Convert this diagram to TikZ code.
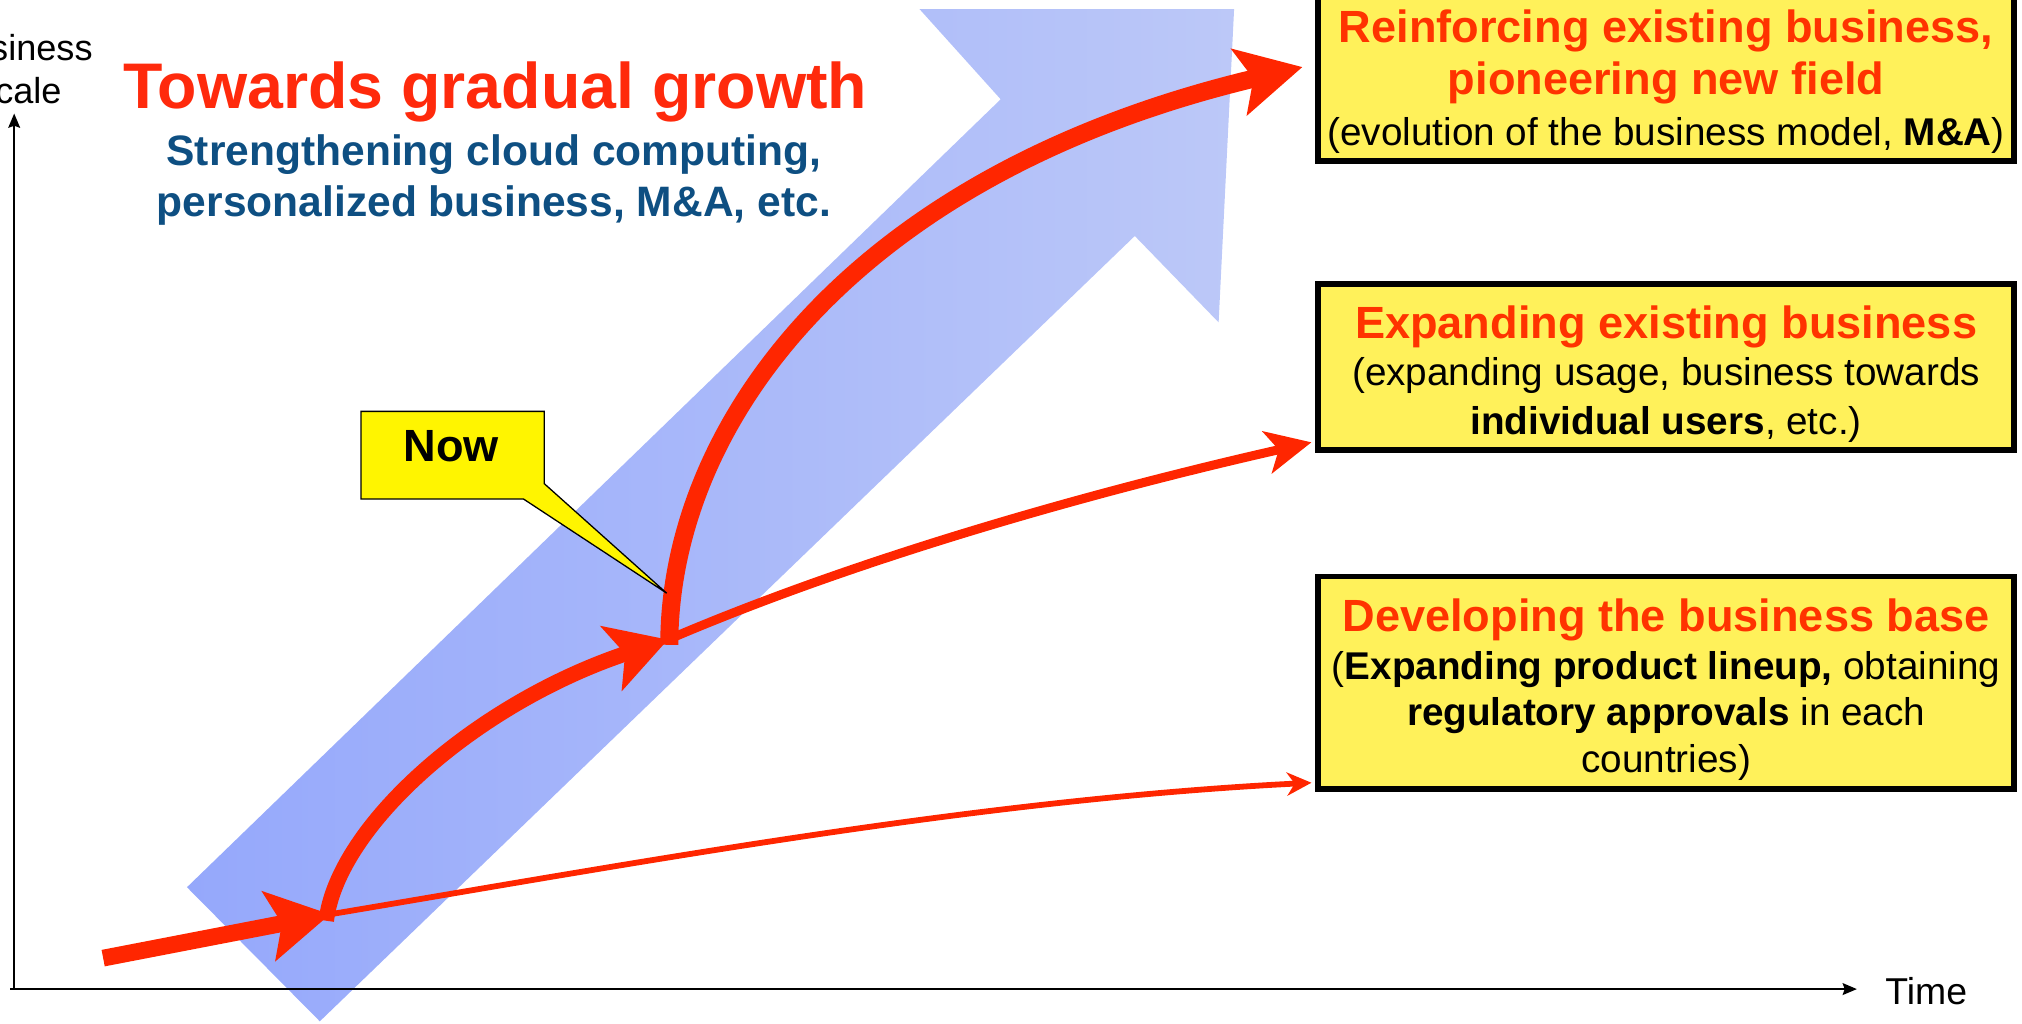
\documentclass[tikz,border=0pt]{standalone}
\usepackage{fontspec}
\setmainfont{Liberation Sans}
\usetikzlibrary{arrows.meta}
\definecolor{arrred}{HTML}{FF2600}
\definecolor{titlered}{HTML}{FF2A0C}
\definecolor{headred}{HTML}{FF3300}
\definecolor{subblue}{HTML}{0E4F82}
\definecolor{boxyellow}{HTML}{FFF15A}
\definecolor{nowyellow}{HTML}{FFF500}
\definecolor{blueA}{HTML}{95A8FB}
\definecolor{blueB}{HTML}{BCC8F8}
\begin{document}
\begin{tikzpicture}[x=1pt,y=-1pt,
  lbl/.style={inner sep=0pt, outer sep=0pt},
  headtxt/.style={lbl, anchor=base, text=headred, font=\fontsize{35}{42}\selectfont\bfseries},
  bodytxt/.style={lbl, anchor=base, text=black, font=\fontsize{30}{37}\selectfont},
  subtxt/.style={lbl, anchor=base, text=subblue, font=\fontsize{33}{40}\selectfont\bfseries},
  infobox/.style={draw=black, line width=4.5pt, fill=boxyellow, minimum width=540pt, inner sep=0pt, outer sep=0pt},
  axisline/.style={draw=black, line width=2pt, -{Stealth[length=11pt,width=9pt,inset=1.5pt]}},
  bigarrow/.style={draw=arrred, line width=12pt, -{Stealth[length=50pt,width=52pt,inset=11pt]}},
  thinarrow/.style={draw=arrred, line width=4.5pt, -{Stealth[length=19pt,width=18pt,inset=6pt]}},
  midarrow/.style={draw=arrred, line width=7pt, -{Stealth[length=35pt,width=33pt,inset=9pt]}},
]
\useasboundingbox (0,0) rectangle (1568,794);

% big blue arrow
\shade[left color=blueA, right color=blueB] (713,7) -- (957,7) -- (945,250) -- (880,183) -- (248,792) -- (145,688) -- (776,77) -- cycle;

% axes
\coordinate (origin) at (11,767);
\coordinate (ytip) at (11,88);
\coordinate (xstart) at (8,767);
\coordinate (xtip) at (1440,767);
\draw[axisline] (origin) -- (ytip);
\draw[axisline] (xstart) -- (xtip);
\node[lbl, anchor=base, font=\fontsize{28}{33}\selectfont] (bs1) at (15,47) {Business};
\node[lbl, anchor=base, font=\fontsize{28}{33}\selectfont] (bs2) at (15,80) {scale};
\node[lbl, anchor=base west, font=\fontsize{29}{35}\selectfont] (time) at (1462,779) {Time};

% title
\node[lbl, anchor=base, text=titlered, font=\fontsize{50}{60}\selectfont\bfseries] (title) at (384,84) {Towards gradual growth};
\node[subtxt] (sub1) at (383,128) {Strengthening cloud computing,};
\node[subtxt] (sub2) at (383,168) {personalized business, M\&A, etc.};

% boxes
\node[infobox, minimum height=137pt] (box1) at (1292,56.5) {};
\node[infobox, minimum height=129pt] (box2) at (1292,284.5) {};
\node[infobox, minimum height=165pt] (box3) at (1292,529.5) {};

\node[headtxt] (b1a) at (1292,32.6) {Reinforcing existing business,};
\node[headtxt] (b1b) at (1292,73.6) {pioneering new field};
\node[bodytxt] (b1c) at (1292,112.8) {(evolution of the business model, \textbf{M\&A})};
\node[headtxt] (b2a) at (1292,262.6) {Expanding existing business};
\node[bodytxt] (b2b) at (1292,298.8) {(expanding usage, business towards};
\node[bodytxt] (b2c) at (1292,336.8) {\textbf{individual users}, etc.)};
\node[headtxt] (b3a) at (1292,489.6) {Developing the business base};
\node[bodytxt] (b3b) at (1292,526.8) {(\textbf{Expanding product lineup,} obtaining};
\node[bodytxt] (b3c) at (1292,562.8) {\textbf{regulatory approvals} in each};
\node[bodytxt] (b3d) at (1292,598.8) {countries)};

% red arrows
\coordinate (p0) at (80,743);
\coordinate (p1) at (256,709);
\coordinate (p2) at (518,496);
\coordinate (p1b) at (253,714);
\coordinate (p2b) at (519,500);
\draw[thinarrow] (p1) .. controls (500,668) and (760,620) .. ([shift={(-5,-5)}]box3.south west);
\draw[midarrow] (p2) .. controls (660,435) and (840,383) .. ([shift={(-5,-6)}]box2.south west);
\draw[bigarrow, -{Stealth[length=46pt,width=52pt,inset=11pt]}] (p1b) .. controls (262,640) and (370,545) .. (p2);
\draw[bigarrow, line width=14pt] (p2b) .. controls (519,330) and (660,135) .. ([shift={(-12,-4.5)}]box1.west);
\draw[bigarrow, line width=13pt, -{Stealth[length=48pt,width=54pt,inset=10pt]}] (p0) -- (p1);

% callout
\draw[fill=nowyellow, draw=black, line width=1pt] (280,319) -- (422,319) -- (422,375) -- (517,460) -- (406,387) -- (280,387) -- cycle;
\node[lbl, anchor=base, font=\fontsize{35}{42}\selectfont\bfseries] (now) at (350,358) {Now};
\end{tikzpicture}
\end{document}
